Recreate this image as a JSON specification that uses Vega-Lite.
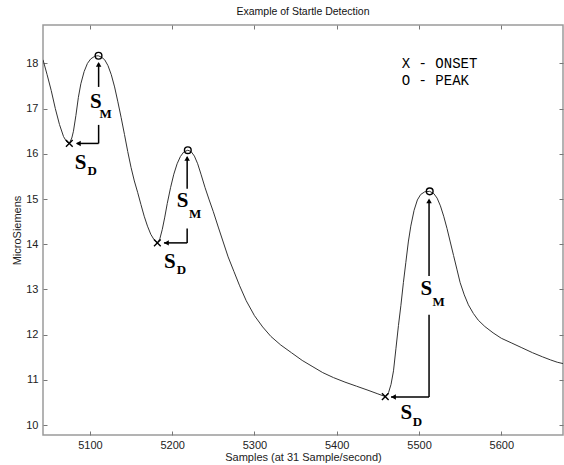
{
  "$schema": "https://vega.github.io/schema/vega-lite/v6.json",
  "width": 520,
  "height": 410,
  "autosize": "none",
  "padding": {"left": 43, "top": 25, "right": 1, "bottom": 30},
  "background": "white",
  "title": {"text": "Example of Startle Detection", "fontSize": 10.5, "font": "Liberation Sans", "fontWeight": "normal", "color": "#111", "offset": 7},
  "config": {
    "view": {"stroke": "#9a9a9a", "strokeWidth": 1.5},
    "axis": {"labelFont": "Liberation Sans", "labelFontSize": 11, "labelColor": "#222", "titleFont": "Liberation Sans", "titleFontSize": 11, "titleFontWeight": "normal", "titleColor": "#222", "domain": false, "grid": false, "tickColor": "#777", "tickSize": -4, "tickWidth": 1}
  },
  "datasets": {
    "curve": [
      {"sample": 5043, "us": 18.08}, {"sample": 5048, "us": 17.75}, {"sample": 5053, "us": 17.4}, {"sample": 5058, "us": 17.0},
      {"sample": 5063, "us": 16.65}, {"sample": 5068, "us": 16.38}, {"sample": 5072, "us": 16.26}, {"sample": 5075, "us": 16.23},
      {"sample": 5078, "us": 16.35}, {"sample": 5080, "us": 16.5}, {"sample": 5083, "us": 16.85}, {"sample": 5086, "us": 17.25},
      {"sample": 5089, "us": 17.55}, {"sample": 5093, "us": 17.82}, {"sample": 5097, "us": 18.0}, {"sample": 5101, "us": 18.1},
      {"sample": 5106, "us": 18.16}, {"sample": 5110, "us": 18.17}, {"sample": 5114, "us": 18.14}, {"sample": 5118, "us": 18.08},
      {"sample": 5122, "us": 17.95}, {"sample": 5126, "us": 17.75}, {"sample": 5130, "us": 17.48}, {"sample": 5134, "us": 17.15},
      {"sample": 5138, "us": 16.8}, {"sample": 5142, "us": 16.43}, {"sample": 5146, "us": 16.05}, {"sample": 5150, "us": 15.7},
      {"sample": 5154, "us": 15.4}, {"sample": 5158, "us": 15.15}, {"sample": 5162, "us": 14.88}, {"sample": 5166, "us": 14.62},
      {"sample": 5170, "us": 14.4}, {"sample": 5174, "us": 14.22}, {"sample": 5178, "us": 14.1}, {"sample": 5182, "us": 14.03},
      {"sample": 5185, "us": 14.12}, {"sample": 5188, "us": 14.33}, {"sample": 5191, "us": 14.6}, {"sample": 5194, "us": 14.9},
      {"sample": 5198, "us": 15.25}, {"sample": 5202, "us": 15.55}, {"sample": 5206, "us": 15.78}, {"sample": 5210, "us": 15.94},
      {"sample": 5214, "us": 16.04}, {"sample": 5219, "us": 16.08}, {"sample": 5223, "us": 16.05}, {"sample": 5227, "us": 15.95},
      {"sample": 5231, "us": 15.78}, {"sample": 5235, "us": 15.55}, {"sample": 5240, "us": 15.25}, {"sample": 5245, "us": 14.98},
      {"sample": 5250, "us": 14.72}, {"sample": 5256, "us": 14.38}, {"sample": 5262, "us": 14.05}, {"sample": 5268, "us": 13.72},
      {"sample": 5275, "us": 13.4}, {"sample": 5282, "us": 13.08}, {"sample": 5290, "us": 12.75}, {"sample": 5300, "us": 12.42},
      {"sample": 5310, "us": 12.17}, {"sample": 5320, "us": 11.96}, {"sample": 5332, "us": 11.77}, {"sample": 5345, "us": 11.6},
      {"sample": 5358, "us": 11.43}, {"sample": 5370, "us": 11.3}, {"sample": 5383, "us": 11.16}, {"sample": 5396, "us": 11.05},
      {"sample": 5410, "us": 10.95}, {"sample": 5424, "us": 10.86}, {"sample": 5438, "us": 10.77}, {"sample": 5450, "us": 10.69},
      {"sample": 5459, "us": 10.63}, {"sample": 5463, "us": 10.72}, {"sample": 5466, "us": 10.9}, {"sample": 5469, "us": 11.2},
      {"sample": 5472, "us": 11.7}, {"sample": 5475, "us": 12.2}, {"sample": 5478, "us": 12.65}, {"sample": 5481, "us": 13.15},
      {"sample": 5484, "us": 13.6}, {"sample": 5487, "us": 14.05}, {"sample": 5490, "us": 14.4}, {"sample": 5494, "us": 14.75},
      {"sample": 5498, "us": 14.98}, {"sample": 5502, "us": 15.1}, {"sample": 5507, "us": 15.16}, {"sample": 5513, "us": 15.17},
      {"sample": 5518, "us": 15.12}, {"sample": 5522, "us": 15.02}, {"sample": 5526, "us": 14.85}, {"sample": 5530, "us": 14.62},
      {"sample": 5534, "us": 14.35}, {"sample": 5538, "us": 14.05}, {"sample": 5542, "us": 13.75}, {"sample": 5546, "us": 13.45},
      {"sample": 5550, "us": 13.15}, {"sample": 5555, "us": 12.88}, {"sample": 5560, "us": 12.66}, {"sample": 5566, "us": 12.47},
      {"sample": 5572, "us": 12.32}, {"sample": 5580, "us": 12.18}, {"sample": 5590, "us": 12.04}, {"sample": 5600, "us": 11.92},
      {"sample": 5612, "us": 11.82}, {"sample": 5625, "us": 11.71}, {"sample": 5638, "us": 11.6}, {"sample": 5650, "us": 11.51},
      {"sample": 5660, "us": 11.44}, {"sample": 5668, "us": 11.39}, {"sample": 5675, "us": 11.36}
    ],
    "segments": [
      {"x": 5110.6, "y": 16.23, "x2": 5110.6, "y2": 16.64},
      {"x": 5110.6, "y": 17.48, "x2": 5110.6, "y2": 18.0},
      {"x": 5084, "y": 16.23, "x2": 5110.6, "y2": 16.23},
      {"x": 5218.2, "y": 14.03, "x2": 5218.2, "y2": 14.35},
      {"x": 5218.2, "y": 15.23, "x2": 5218.2, "y2": 15.92},
      {"x": 5190, "y": 14.03, "x2": 5218.2, "y2": 14.03},
      {"x": 5512.2, "y": 10.62, "x2": 5512.2, "y2": 12.44},
      {"x": 5512.2, "y": 13.3, "x2": 5512.2, "y2": 14.98},
      {"x": 5466, "y": 10.62, "x2": 5512.2, "y2": 10.62}
    ],
    "arrows": [
      {"x": 5110.6, "y": 17.98, "dir": "up"},
      {"x": 5086, "y": 16.23, "dir": "left"},
      {"x": 5218.2, "y": 15.9, "dir": "up"},
      {"x": 5193, "y": 14.03, "dir": "left"},
      {"x": 5512.2, "y": 14.96, "dir": "up"},
      {"x": 5469, "y": 10.62, "dir": "left"}
    ],
    "markers": [
      {"x": 5075, "y": 16.23, "kind": "onset"},
      {"x": 5182, "y": 14.03, "kind": "onset"},
      {"x": 5459, "y": 10.63, "kind": "onset"},
      {"x": 5110.5, "y": 18.17, "kind": "peak"},
      {"x": 5219, "y": 16.08, "kind": "peak"},
      {"x": 5513, "y": 15.17, "kind": "peak"}
    ],
    "bigS": [
      {"x": 5107.3, "y": 17.14, "t": "S"},
      {"x": 5088.7, "y": 15.79, "t": "S"},
      {"x": 5212.6, "y": 14.96, "t": "S"},
      {"x": 5197.2, "y": 13.61, "t": "S"},
      {"x": 5509, "y": 13.0, "t": "S"},
      {"x": 5484.7, "y": 10.26, "t": "S"}
    ],
    "subs": [
      {"x": 5119.1, "y": 16.88, "t": "M"},
      {"x": 5102.8, "y": 15.62, "t": "D"},
      {"x": 5227.9, "y": 14.68, "t": "M"},
      {"x": 5211.4, "y": 13.43, "t": "D"},
      {"x": 5524, "y": 12.73, "t": "M"},
      {"x": 5498, "y": 10.07, "t": "D"}
    ],
    "legend": [
      {"x": 5479, "y": 17.98, "t": "X - ONSET"},
      {"x": 5479, "y": 17.61, "t": "O - PEAK"}
    ]
  },
  "resolve": {"axis": {"x": "independent", "y": "independent"}, "scale": {"shape": "independent"}},
  "layer": [
    {
      "data": {"name": "curve"},
      "mark": {"type": "line", "color": "#333", "strokeWidth": 1, "clip": true},
      "encoding": {
        "x": {"field": "sample", "type": "quantitative", "scale": {"domain": [5043, 5675], "nice": false, "zero": false},
              "axis": {"title": "Samples (at 31 Sample/second)", "values": [5100, 5200, 5300, 5400, 5500, 5600], "format": "d", "labelPadding": 8, "titlePadding": 1}},
        "y": {"field": "us", "type": "quantitative", "scale": {"domain": [9.78, 18.85], "nice": false, "zero": false},
              "axis": {"title": "MicroSiemens", "values": [10, 11, 12, 13, 14, 15, 16, 17, 18], "labelPadding": 9, "titlePadding": 3}}
      }
    },
    {
      "data": {"name": "segments"},
      "mark": {"type": "rule", "color": "black", "strokeWidth": 1.5},
      "encoding": {
        "x": {"field": "x", "type": "quantitative", "axis": {"orient": "top", "labels": false, "title": null, "values": [5100, 5200, 5300, 5400, 5500, 5600]}},
        "y": {"field": "y", "type": "quantitative", "axis": {"orient": "right", "labels": false, "title": null, "values": [10, 11, 12, 13, 14, 15, 16, 17, 18]}},
        "x2": {"field": "x2"},
        "y2": {"field": "y2"}
      }
    },
    {
      "data": {"name": "arrows"},
      "mark": {"type": "point", "filled": true, "color": "black", "size": 30, "opacity": 1},
      "encoding": {
        "x": {"field": "x", "type": "quantitative", "axis": null},
        "y": {"field": "y", "type": "quantitative", "axis": null},
        "shape": {"field": "dir", "type": "nominal", "scale": {"domain": ["up", "left"], "range": ["triangle-up", "triangle-left"]}, "legend": null}
      }
    },
    {
      "data": {"name": "markers"},
      "mark": {"type": "point", "filled": false, "color": "black", "strokeWidth": 1.4, "size": 45, "opacity": 1},
      "encoding": {
        "x": {"field": "x", "type": "quantitative", "axis": null},
        "y": {"field": "y", "type": "quantitative", "axis": null},
        "shape": {"field": "kind", "type": "nominal", "scale": {"domain": ["onset", "peak"], "range": ["M-1,-1L1,1M-1,1L1,-1", "circle"]}, "legend": null}
      }
    },
    {
      "data": {"name": "bigS"},
      "mark": {"type": "text", "font": "Liberation Serif", "fontWeight": "bold", "fontSize": 21, "color": "black", "align": "center", "baseline": "middle"},
      "encoding": {
        "x": {"field": "x", "type": "quantitative", "axis": null},
        "y": {"field": "y", "type": "quantitative", "axis": null},
        "text": {"field": "t"}
      }
    },
    {
      "data": {"name": "subs"},
      "mark": {"type": "text", "font": "Liberation Serif", "fontWeight": "bold", "fontSize": 13, "color": "black", "align": "center", "baseline": "middle"},
      "encoding": {
        "x": {"field": "x", "type": "quantitative", "axis": null},
        "y": {"field": "y", "type": "quantitative", "axis": null},
        "text": {"field": "t"}
      }
    },
    {
      "data": {"name": "legend"},
      "mark": {"type": "text", "font": "Liberation Mono", "fontSize": 14, "color": "black", "align": "left", "baseline": "middle"},
      "encoding": {
        "x": {"field": "x", "type": "quantitative", "axis": null},
        "y": {"field": "y", "type": "quantitative", "axis": null},
        "text": {"field": "t"}
      }
    }
  ]
}
